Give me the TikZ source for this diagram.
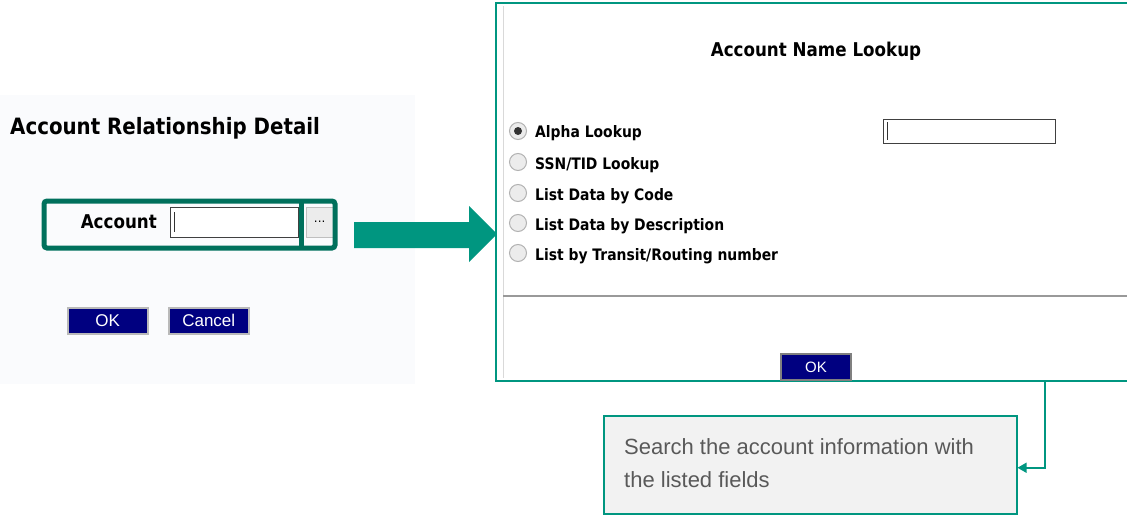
\documentclass[tikz,border=0pt]{standalone}
\usepackage{fontspec}
\setmainfont{DejaVu Sans}
\newfontfamily\uifont[FakeStretch=0.88]{DejaVu Sans}
\newfontfamily\arialfont{Liberation Sans}
\usetikzlibrary{arrows.meta, positioning}
\definecolor{frameGreen}{RGB}{0,112,92}
\definecolor{arrowTeal}{RGB}{0,150,128}
\definecolor{buttonNavy}{RGB}{0,0,128}
\definecolor{panelBack}{RGB}{250,251,253}
\definecolor{noteGray}{RGB}{242,242,242}
\definecolor{noteText}{RGB}{89,89,89}

\begin{document}
\begin{tikzpicture}[
    x=1pt, y=-1pt,
    every node/.style={inner sep=0pt},
    uibutton/.style={draw=gray!55, line width=1.5pt, fill=buttonNavy, text=white, font=\arialfont\fontsize{17}{17}\selectfont, minimum width=80pt, minimum height=26pt},
    inputbox/.style={draw=black!75, line width=1pt, fill=white},
    radio/.style={circle, draw=gray!60, line width=1pt, fill=gray!15, minimum size=17pt},
    optlabel/.style={font=\uifont\bfseries\fontsize{15.8}{16}\selectfont, anchor=west},
    notebox/.style={draw=arrowTeal, line width=1.5pt, fill=noteGray, minimum width=413pt, minimum height=98pt}
]
    \useasboundingbox (0,0) rectangle (1127,514);

    % Painel esquerdo
    \fill[panelBack] (0,95) rectangle (415,384);
    \node[anchor=west, font=\uifont\bfseries\fontsize{22.5}{22}\selectfont] (title) at (10,128) {Account Relationship Detail};

    % Campo Account com moldura
    \node[inputbox, anchor=north west, minimum width=128pt, minimum height=30pt] (acct) at (170,207) {};
    \draw[black!80] (174,212) -- (174,232);
    \node[draw=gray!50, fill=gray!15, anchor=north west, minimum width=27pt, minimum height=30pt, font=\fontsize{12}{12}\selectfont] (dots) at (306,207) {...};
    \draw[frameGreen, line width=5pt, rounded corners=3pt] (44,201) rectangle (335,248);
    \draw[frameGreen, line width=5pt] (301,201) -- (301,248);
    \node[anchor=east, font=\uifont\bfseries\fontsize{19}{19}\selectfont] (acctlabel) at (157,222) {Account};

    % Botoes OK / Cancel
    \node[uibutton, anchor=north west] (ok) at (67,307) {OK};
    \node[uibutton, anchor=north west] (cancel) at (168,307) {Cancel};

    % Seta grande
    \fill[arrowTeal] (354,222) -- (469,222) -- (469,206) -- (497,234) -- (469,262) -- (469,248) -- (354,248) -- cycle;

    % Janela de pesquisa
    \fill[white] (496,3) rectangle (1127,381);
    \draw[arrowTeal, line width=1.5pt] (1127,3) -- (496,3) -- (496,381) -- (1127,381);
    \draw[gray!30] (503,6) -- (503,378);
    \node[font=\uifont\bfseries\fontsize{19}{19}\selectfont] (lookup) at (816,51) {Account Name Lookup};

    % Opcoes
    \node[radio] (r1) at (518,131) {};
    \fill[black!80] (r1) circle (4);
    \node[optlabel] (o1) at (535,133) {Alpha Lookup};
    \node[radio] (r2) at (518,162) {};
    \node[optlabel] (o2) at (535,165) {SSN/TID Lookup};
    \node[radio] (r3) at (518,193) {};
    \node[optlabel] (o3) at (535,196) {List Data by Code};
    \node[radio] (r4) at (518,223) {};
    \node[optlabel] (o4) at (535,226) {List Data by Description};
    \node[radio] (r5) at (518,253) {};
    \node[optlabel] (o5) at (535,256) {List by Transit/Routing number};

    \node[inputbox, anchor=north west, minimum width=172pt, minimum height=24pt] (alpha) at (883,119) {};
    \draw[black!80] (887,122) -- (887,140);

    % Separador
    \draw[gray!80, line width=1.2pt] (503,296) -- (1127,296);

    % Botao OK da janela
    \node[uibutton, draw=black!50, minimum width=70pt, minimum height=26pt, font=\arialfont\fontsize{15}{15}\selectfont] (dlgok) at (816,367) {OK};

    % Nota explicativa
    \node[notebox, anchor=north west] (note) at (603,415) {};
    \node[anchor=north west, align=left, text=noteText, font=\arialfont\fontsize{22}{33}\selectfont] (notetext) at (624,438) {Search the account information with\\the listed fields};
    \coordinate (tap) at (1045,381);
    \draw[arrowTeal, line width=1.5pt, -{Triangle[length=9pt, width=10pt]}] (tap) |- ([yshift=-3pt]note.east);

\end{tikzpicture}
\end{document}
